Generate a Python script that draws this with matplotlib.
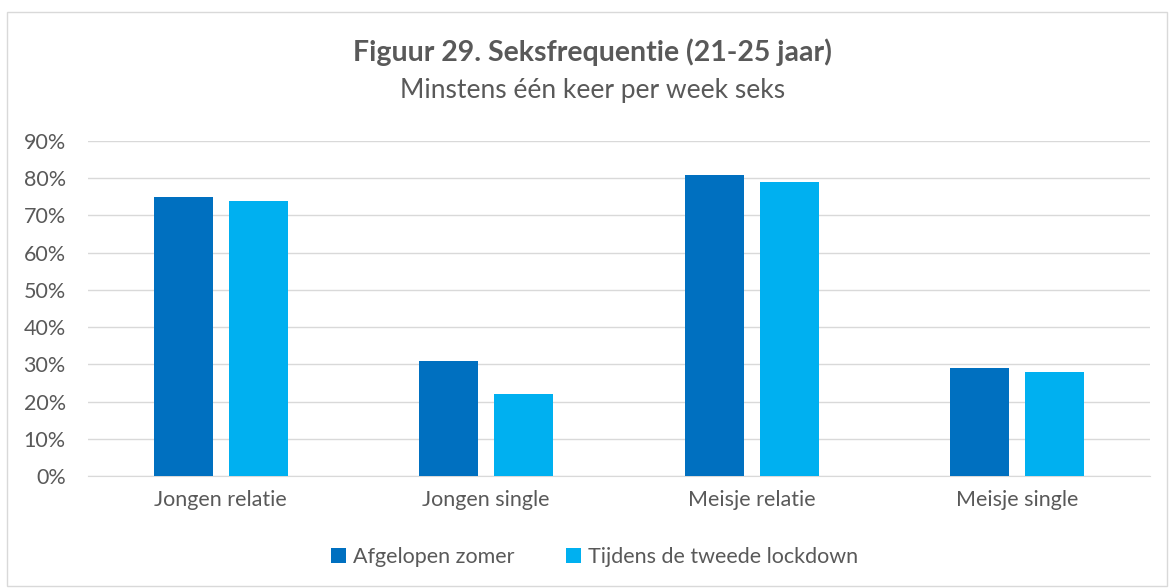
import matplotlib.pyplot as plt
import numpy as np
from matplotlib.patches import Rectangle
from matplotlib.ticker import FuncFormatter

categories = ['Jongen relatie', 'Jongen single', 'Meisje relatie', 'Meisje single']
zomer = [75, 31, 81, 29]
lockdown = [74, 22, 79, 28]
series_names = ['Afgelopen zomer', 'Tijdens de tweede lockdown']

plt.rcParams['font.family'] = ['Lato', 'DejaVu Sans']
grey = '#595959'

fig = plt.figure(figsize=(11.75, 5.88), dpi=100)
# outer chart border
fig.add_artist(Rectangle((7 / 1175, 1 - 586 / 588), 1160 / 1175, 574 / 588,
                         transform=fig.transFigure, fill=False,
                         edgecolor='#d9d9d9', linewidth=1))

ax = fig.add_axes([88 / 1175, 1 - 476 / 588, (1150 - 88) / 1175, (476 - 141) / 588])
x = np.arange(len(categories))
w = 0.222
off = 0.141
ax.bar(x - off, zomer, w, color='#0070C0', label=series_names[0], zorder=3)
ax.bar(x + off, lockdown, w, color='#00B0F0', label=series_names[1], zorder=3)

ax.set_xlim(-0.5, len(categories) - 0.5)
ax.set_ylim(0, 90)
ax.set_yticks(range(0, 91, 10))
ax.yaxis.set_major_formatter(FuncFormatter(lambda v, p: f'{v:.0f}%'))
ax.set_xticks(x)
ax.set_xticklabels(categories)
ax.tick_params(axis='both', length=0, labelsize=15.5, colors=grey)
ax.tick_params(axis='x', pad=10)
ax.tick_params(axis='y', pad=16)
ax.grid(axis='y', color='#d9d9d9', linewidth=1, zorder=0)
for s in ['top', 'right', 'left']:
    ax.spines[s].set_visible(False)
ax.spines['bottom'].set_color('#d9d9d9')

fig.text(0.504, 1 - 52 / 588, 'Figuur 29. Seksfrequentie (21-25 jaar)', ha='center', va='center',
         fontsize=20.5, fontweight='bold', color=grey)
fig.text(0.504, 1 - 90 / 588, 'Minstens één keer per week seks', ha='center', va='center',
         fontsize=19, color=grey)

fig.legend(loc='center', bbox_to_anchor=(0.506, 1 - 557 / 588), ncol=2, frameon=False,
           fontsize=15.5, labelcolor=grey, handlelength=0.7, handleheight=0.7,
           handletextpad=0.3, columnspacing=2.4)

fig.savefig('out.png', dpi=100)
